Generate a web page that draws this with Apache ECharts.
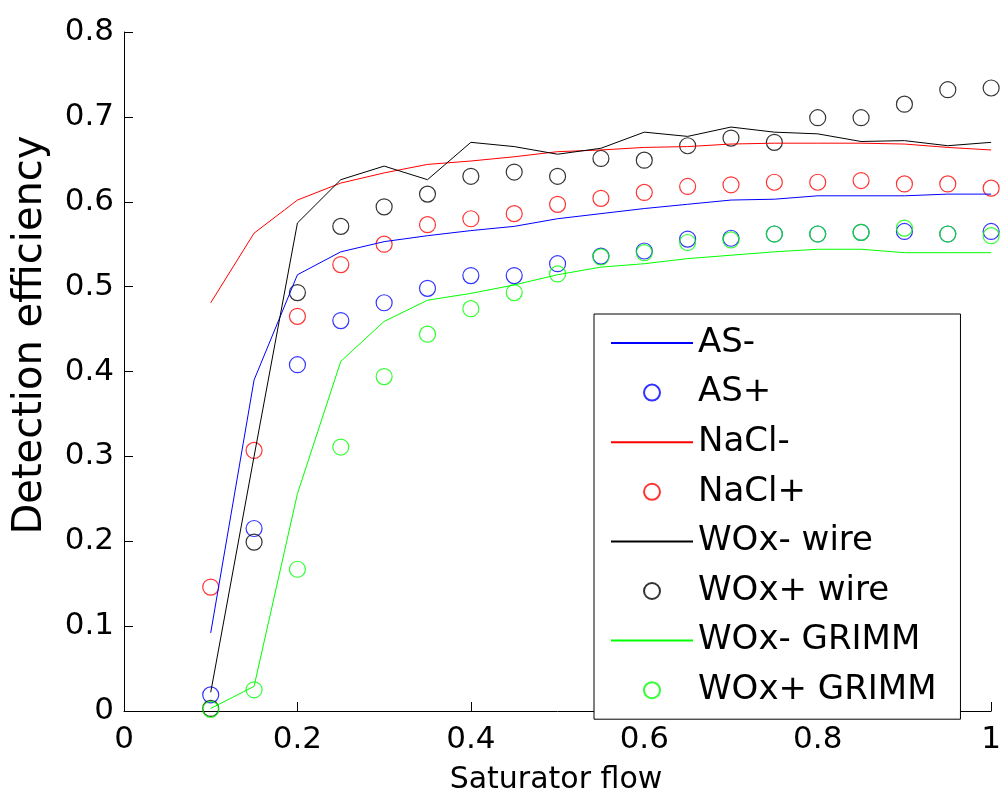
<!DOCTYPE html>
<html><head><meta charset="utf-8">
<script src="https://cdn.jsdelivr.net/npm/echarts@6/dist/echarts.min.js"></script>
<style>html,body{margin:0;padding:0;background:#fff}#c{width:1004px;height:799px}</style>
</head><body><div id="c"></div>
<script>
const flow = [0.10,0.15,0.20,0.25,0.30,0.35,0.40,0.45,0.50,0.55,0.60,0.65,0.70,0.75,0.80,0.85,0.90,0.95,1.00];
const asMinus = [0.092,0.390,0.514,0.541,0.553,0.560,0.566,0.571,0.580,0.586,0.592,0.597,0.602,0.603,0.607,0.607,0.607,0.609,0.609];
const asPlus = [0.019,0.215,0.408,0.460,0.481,0.498,0.513,0.513,0.527,0.536,0.542,0.556,0.557,0.562,0.562,0.564,0.565,0.562,0.565];
const naclMinus = [0.481,0.563,0.602,0.622,0.634,0.644,0.648,0.653,0.659,0.661,0.664,0.665,0.668,0.669,0.669,0.669,0.668,0.664,0.661];
const naclPlus = [0.146,0.307,0.465,0.526,0.550,0.573,0.580,0.586,0.597,0.604,0.611,0.618,0.620,0.623,0.623,0.625,0.621,0.621,0.616];
const woxWireMinus = [0.022,0.300,0.575,0.626,0.642,0.626,0.670,0.665,0.656,0.663,0.682,0.677,0.688,0.682,0.680,0.671,0.672,0.666,0.670];
const woxWirePlus = [0.003,0.199,0.493,0.571,0.594,0.609,0.630,0.635,0.630,0.651,0.649,0.666,0.675,0.670,0.699,0.699,0.715,0.732,0.734];
const woxGrimmMinus = [0.003,0.029,0.256,0.412,0.459,0.484,0.492,0.502,0.514,0.523,0.527,0.533,0.537,0.541,0.544,0.544,0.540,0.540,0.540];
const woxGrimmPlus = [0.002,0.025,0.167,0.311,0.394,0.444,0.474,0.493,0.515,0.535,0.540,0.552,0.555,0.562,0.562,0.564,0.569,0.562,0.560];
const seriesNames = ['AS-','AS+','NaCl-','NaCl+','WOx- wire','WOx+ wire','WOx- GRIMM','WOx+ GRIMM'];
const xTitle = 'Saturator flow';
const yTitle = 'Detection efficiency';

const FONT = 'DejaVu Sans';
const pairs = ys => flow.map((x, i) => [x, ys[i]]);
const lineS = (name, ys, color) => ({
  name, type: 'line', data: pairs(ys), symbol: 'none',
  lineStyle: { color, width: 1 }, itemStyle: { color }, silent: true
});
const dotS = (name, ys, color) => ({
  name, type: 'scatter', data: pairs(ys), symbol: 'circle', symbolSize: 16,
  itemStyle: { color: 'rgba(0,0,0,0)', borderColor: color, borderWidth: 1.2 }, silent: true
});
const isLine = n => n.indexOf('-') >= 0;

const chart = echarts.init(document.getElementById('c'), null, { renderer: 'canvas' });
chart.setOption({
  animation: false,
  backgroundColor: '#fff',
  grid: { left: 124, right: 8, top: 32, bottom: 88, containLabel: false },
  xAxis: {
    type: 'value', min: 0, max: 1, interval: 0.2,
    axisLine: { lineStyle: { color: '#000', width: 1 } },
    axisTick: { inside: true, length: 9, lineStyle: { color: '#000' } },
    splitLine: { show: false },
    axisLabel: { color: '#000', fontFamily: FONT, fontSize: 31, margin: 13 }
  },
  yAxis: {
    type: 'value', min: 0, max: 0.8, interval: 0.1,
    axisLine: { show: true, lineStyle: { color: '#000', width: 1 } },
    axisTick: { show: true, inside: true, length: 9, lineStyle: { color: '#000' } },
    splitLine: { show: false },
    axisLabel: { color: '#000', fontFamily: FONT, fontSize: 31, margin: 10 }
  },
  legend: {
    orient: 'vertical', left: 594, top: 314,
    padding: [12, 24, 12, 16],
    itemWidth: 82, itemHeight: 16, itemGap: 15.6,
    backgroundColor: '#fff', borderColor: '#000', borderWidth: 1,
    textStyle: { color: '#000', fontFamily: FONT, fontSize: 34, lineHeight: 34 },
    data: seriesNames.map(n => isLine(n)
      ? { name: n, itemStyle: { opacity: 0 } }
      : { name: n })
  },
  graphic: [
    { type: 'text', x: 31, y: 335, rotation: Math.PI / 2,
      style: { text: yTitle, fill: '#000', font: '40px "' + FONT + '"', align: 'center', verticalAlign: 'middle' } },
    { type: 'text', x: 556, y: 780,
      style: { text: xTitle, fill: '#000', font: '30px "' + FONT + '"', align: 'center', verticalAlign: 'middle' } }
  ],
  series: [
    lineS(seriesNames[0], asMinus, '#0000ff'),
    dotS(seriesNames[1], asPlus, '#0000ff'),
    lineS(seriesNames[2], naclMinus, '#ff0000'),
    dotS(seriesNames[3], naclPlus, '#ff0000'),
    lineS(seriesNames[4], woxWireMinus, '#000000'),
    dotS(seriesNames[5], woxWirePlus, '#000000'),
    lineS(seriesNames[6], woxGrimmMinus, '#00ff00'),
    dotS(seriesNames[7], woxGrimmPlus, '#00ff00')
  ]
});
</script>
</body></html>
